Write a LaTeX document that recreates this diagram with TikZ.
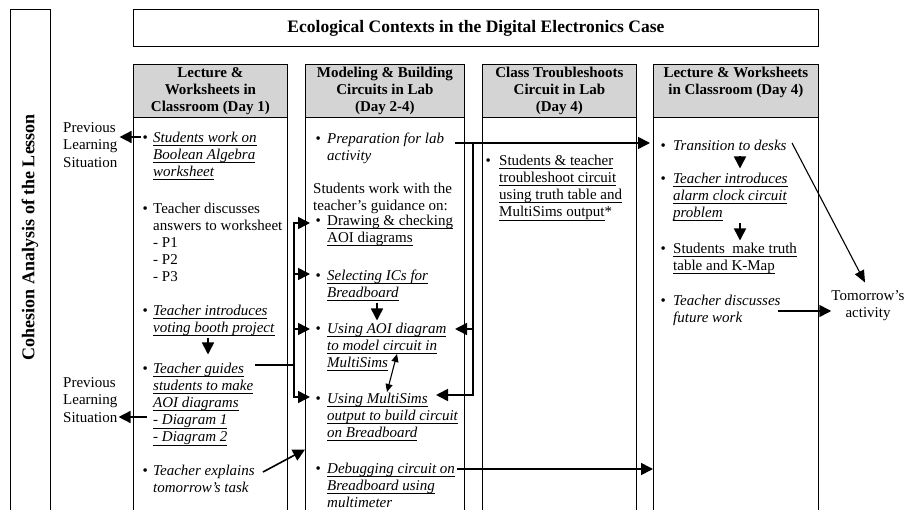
\documentclass[tikz,border=0pt]{standalone}
\usepackage{fontspec}
\setmainfont{Liberation Serif}
\usepackage{tikz}
\usetikzlibrary{arrows.meta,calc}
\definecolor{headfill}{gray}{0.83}
\newcommand{\bodyfont}{\fontsize{15}{17.2}\selectfont}
\newcommand{\itembul}[1]{\llap{\textbullet\hspace{#1}}}
\newsavebox{\ulbox}
\newcommand{\uln}[1]{\sbox{\ulbox}{#1}\rlap{\rule[-3.6pt]{\wd\ulbox}{0.8pt}}\usebox{\ulbox}}
\newcommand{\ituline}[1]{\uln{\textit{#1}}}

\begin{document}
\begin{tikzpicture}[x=1pt, y=-1pt,
    box/.style={draw, line width=0.8pt, inner sep=0pt, anchor=north west},
    headbox/.style={box, fill=headfill},
    headtext/.style={anchor=north, align=center, inner sep=0pt, font=\fontsize{15}{17}\selectfont\bfseries, execute at begin node=\strut\rule{0pt}{13.9pt}},
    txt/.style={anchor=north west, align=left, inner sep=0pt, font=\bodyfont, execute at begin node=\strut\rule{0pt}{14pt}},
    conn/.style={line width=1.6pt},
    arr/.style={conn, -{Triangle[length=12pt,width=12pt]}},
    thinarr/.style={line width=1.1pt, -{Triangle[length=12pt,width=10pt]}},
    dblarr/.style={line width=1.1pt, {Triangle[length=8pt,width=7pt]}-{Triangle[length=8pt,width=7pt]}}]
    \useasboundingbox (0,0) rectangle (907,510);
    \clip (0,0) rectangle (907,510);

    % frame on the left and title
    \node[box, minimum width=40, minimum height=520] (side) at (10,9) {};
    \node[rotate=90, font=\fontsize{18}{20}\selectfont\bfseries] (sidelabel) at (30,237) {Cohesion Analysis of the Lesson};
    \node[box, minimum width=685, minimum height=37, font=\fontsize{17.5}{20}\selectfont\bfseries] (title) at (133,9) {Ecological Contexts in the Digital Electronics Case};

    % columns
    \foreach \n/\x/\w in {1/133/154, 2/305/159, 3/482/154, 4/653/165} {
      \node[headbox, minimum width=\w, minimum height=53] (h\n) at (\x,64) {};
      \node[box, minimum width=\w, minimum height=410] (b\n) at (\x,117) {};
    }
    \node[headtext] (h1t) at ([shift={(0,3)}]h1.north) {Lecture \&\\Worksheets in\\Classroom (Day 1)};
    \node[headtext] (h2t) at ([shift={(0,3)}]h2.north) {Modeling \& Building\\Circuits in Lab\\(Day 2-4)};
    \node[headtext] (h3t) at ([shift={(0,3)}]h3.north) {Class Troubleshoots\\Circuit in Lab\\(Day 4)};
    \node[headtext] (h4t) at ([shift={(0,3)}]h4.north) {Lecture \& Worksheets\\in Classroom (Day 4)};

    % column 1
    \node[txt] (c1a) at (153,131.5) {\itembul{5.4pt}\ituline{Students work on}\\\ituline{Boolean Algebra}\\\ituline{worksheet}};
    \node[txt] (c1b) at (153,202.5) {\itembul{5.4pt}Teacher discusses\\answers to worksheet\\- P1\\- P2\\- P3};
    \node[txt] (c1c) at (153,304.5) {\itembul{5.4pt}\ituline{Teacher introduces}\\\ituline{voting booth project}};
    \node[txt] (c1d) at (153,362.5) {\itembul{5.4pt}\ituline{Teacher guides}\\\ituline{students to make}\\\ituline{AOI diagrams}\\\ituline{- Diagram 1}\\\ituline{- Diagram 2}};
    \node[txt] (c1e) at (153,464.5) {\itembul{5.4pt}\textit{Teacher explains}\\\textit{tomorrow's task}};

    % column 2
    \node[txt] (c2a) at (327,132.5) {\itembul{6.4pt}\textit{Preparation for lab}\\\textit{activity}};
    \node[txt] (c2p) at (313,182.5) {Students work with the\\teacher's guidance on:};
    \node[txt] (c2b) at (327,214.5) {\itembul{6.4pt}\uln{Drawing \& checking}\\\uln{AOI diagrams}};
    \node[txt] (c2c) at (327,269.5) {\itembul{6.4pt}\ituline{Selecting ICs for}\\\ituline{Breadboard}};
    \node[txt] (c2d) at (327,322.5) {\itembul{6.4pt}\ituline{Using AOI diagram}\\\ituline{to model circuit in}\\\ituline{MultiSims}};
    \node[txt] (c2e) at (327,392.5) {\itembul{6.4pt}\ituline{Using MultiSims}\\\ituline{output to build circuit}\\\ituline{on Breadboard}};
    \node[txt] (c2f) at (327,462.5) {\itembul{6.4pt}\ituline{Debugging circuit on}\\\ituline{Breadboard using}\\\ituline{multimeter}};

    % column 3
    \node[txt] (c3a) at (499,154.5) {\itembul{8.4pt}\uln{Students \& teacher}\\\uln{troubleshoot circuit}\\\uln{using truth table and}\\\uln{MultiSims output}*};

    % column 4
    \node[txt] (c4a) at (673,136.5) {\itembul{7.4pt}\textit{Transition to desks}};
    \node[txt] (c4b) at (673,172.5) {\itembul{7.4pt}\ituline{Teacher introduces}\\\ituline{alarm clock circuit}\\\ituline{problem}};
    \node[txt] (c4c) at (673,242.5) {\itembul{7.4pt}\uln{Students~ make truth}\\\uln{table and K-Map}};
    \node[txt] (c4d) at (673,294.5) {\itembul{7.4pt}\textit{Teacher discusses}\\\textit{future work}};

    % outside labels
    \node[txt] (prev1) at (63,122.5) {Previous\\Learning\\Situation};
    \node[txt] (prev2) at (63,377.5) {Previous\\Learning\\Situation};
    \node[txt, anchor=north, align=center] (tom) at (868,290.5) {Tomorrow's\\activity};

    % back to previous situations
    \coordinate (p1) at ([shift={(-12,5.5)}]c1a.north west);
    \coordinate (p2) at ([shift={(-6,54.5)}]c1d.north west);
    \draw[arr, shorten >=2pt] (p1) -- (prev1.east |- p1);
    \draw[arr, shorten >=1pt] (p2) -- (prev2.east |- p2);

    % steps inside columns
    \coordinate (c1x) at (208,0);
    \coordinate (c2x) at (377,0);
    \coordinate (c4x) at (740,0);
    \draw[arr, shorten >=8pt] (c1x |- c1c.south) -- (c1x |- c1d.north);
    \draw[arr, shorten >=2pt] (c2x |- c2c.south) -- (c2x |- c2d.north);
    \draw[arr, shorten >=4pt] (c4x |- c4a.south) -- (c4x |- c4b.north);
    \draw[arr, shorten >=2pt] (c4x |- c4b.south) -- (c4x |- c4c.north);

    % teacher guides -> lab tasks
    \coordinate (brk) at (294,0);
    \coordinate (g1) at ([shift={(2,2.5)}]c1d.north east);
    \foreach \n/\dy in {c2b/8.5, c2c/4.5, c2d/6.5, c2e/4.5}
      \coordinate (\n-in) at ([shift={(0,\dy)}]\n.north west);
    \draw[conn] (g1) -- (brk |- g1);
    \draw[conn, line cap=rect] (brk |- c2b-in) -- (brk |- c2e-in);
    \foreach \n in {c2b,c2c,c2d,c2e}
      \draw[arr, shorten >=-5pt] (brk |- \n-in) -- (b2.west |- \n-in);

    % teacher explains -> lab
    \coordinate (e1) at ([shift={(110,7.5)}]c1e.north west);
    \coordinate (e2) at ([shift={(-21,-13)}]c2f.north west);
    \draw[arr] (e1) -- (b2.west |- e2);

    % preparation -> day 4 and back into the lab tasks
    \coordinate (q1) at ([shift={(11,10.5)}]c2a.north east);
    \coordinate (trunk) at (473,0);
    \coordinate (r1) at ([shift={(128,6.5)}]c2d.north west);
    \coordinate (r2) at ([shift={(109,2.5)}]c2e.north west);
    \draw[arr, shorten >=3pt] (q1) -- (b4.west |- q1);
    \draw[conn, line cap=rect] (trunk |- q1) -- (trunk |- r2);
    \draw[arr] (trunk |- r1) -- (r1);
    \draw[arr] (trunk |- r2) -- (r2);

    % debugging -> day 4
    \coordinate (d1) at ([shift={(130,6.5)}]c2f.north west);
    \draw[arr] (d1) -- (b4.west |- d1);

    % modelling <-> building
    \coordinate (m1) at ([shift={(70,31.5)}]c2d.north west);
    \coordinate (m2) at ([shift={(60,-0.5)}]c2e.north west);
    \draw[dblarr] (m1) -- (m2);

    % day 4 -> tomorrow
    \coordinate (t1) at ([shift={(105,16.5)}]c4d.north west);
    \coordinate (t2) at ([shift={(119,6.5)}]c4a.north west);
    \draw[arr] (t1) -- (tom.west |- t1);
    \draw[thinarr] (t2) -- ([shift={(-3,-8)}]tom.north);
  \end{tikzpicture}
\end{document}
